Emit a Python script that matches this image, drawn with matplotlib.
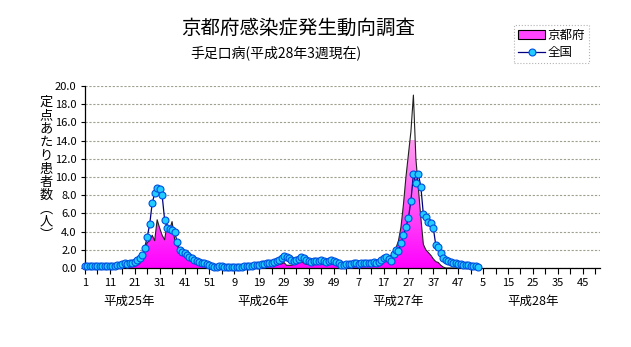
import numpy as np
import matplotlib.pyplot as plt
from matplotlib.colors import LinearSegmentedColormap
from matplotlib.lines import Line2D
from matplotlib.patches import Patch
from matplotlib.transforms import blended_transform_factory

plt.rcParams['font.family'] = ['Noto Sans CJK JP', 'DejaVu Sans']

# weekly sentinel counts, Heisei 25-28 (2013-2016), 52 weeks shown per year
years = ["平成25年", "平成26年", "平成27年", "平成28年"]
weeks_per_year = [52, 52, 52, 52]

kyoto_2013 = [0.05, 0.05, 0.05, 0.05, 0.05, 0.05, 0.05, 0.05, 0.05, 0.05,
              0.05, 0.05, 0.05, 0.05, 0.1, 0.1, 0.1, 0.1, 0.15, 0.15,
              0.2, 0.3, 0.5, 1.0, 2.0, 2.8, 3.0, 3.6, 3.0, 5.3, 4.4, 3.6,
              3.1, 4.8, 4.2, 5.1, 3.2, 2.4, 2.0, 1.8, 1.6, 1.4, 1.2, 1.0,
              0.9, 0.7, 0.6, 0.5, 0.4, 0.3, 0.15, 0.05]
kyoto_2014 = [0.05] * 18 + [
              0.15, 0.15, 0.2, 0.2, 0.2, 0.2, 0.25, 0.3, 0.4, 0.45,
              0.6, 0.3, 0.3, 0.3, 0.4, 0.5, 0.7, 0.8, 0.5, 0.4, 0.5, 0.5,
              0.4, 0.6, 0.5, 0.5, 0.4, 0.5, 0.6, 0.5, 0.5, 0.6, 0.4, 0.3]
kyoto_2015 = [0.2, 0.2, 0.25, 0.3, 0.3, 0.3, 0.35, 0.35, 0.4, 0.4, 0.4, 0.5, 0.5, 0.6,
              0.7, 0.8, 0.9, 1.0, 1.2, 1.4, 1.7, 2.2, 3.0, 4.5, 7.0, 10.0, 12.5, 15.0,
              19.0, 12.0, 8.8, 5.5, 2.6, 2.0, 1.7, 1.4, 1.0, 0.7, 0.6, 0.3,
              0.1, 0, 0, 0, 0, 0, 0, 0, 0, 0, 0, 0]
kyoto_2016 = [0, 0, 0]

national_2013 = [0.2, 0.2, 0.2, 0.2, 0.2, 0.2, 0.2, 0.2, 0.2, 0.2, 0.2, 0.2,
                 0.25, 0.3, 0.35, 0.45, 0.5, 0.45, 0.55, 0.6,
                 0.7, 0.9, 1.1, 1.4, 2.2, 3.4, 4.8, 7.1, 8.2, 8.8, 8.7, 8.0,
                 5.3, 4.4, 4.3, 4.2, 4.0, 2.9, 2.0, 1.8, 1.7, 1.4, 1.2, 1.05,
                 0.9, 0.8, 0.7, 0.6, 0.5, 0.45, 0.35, 0.25]
national_2014 = [0.1, 0.15, 0.25, 0.2, 0.15, 0.1, 0.1, 0.1, 0.1, 0.1, 0.15, 0.15, 0.2, 0.2,
                 0.2, 0.25, 0.3, 0.3, 0.35, 0.4, 0.45, 0.5, 0.55, 0.6, 0.7, 0.8, 0.9, 1.1,
                 1.3, 1.25, 1.1, 0.9, 0.8, 0.85, 1.0, 1.2, 1.1, 0.9, 0.8, 0.7,
                 0.75, 0.8, 0.8, 0.9, 0.8, 0.7, 0.8, 0.9, 0.8, 0.7, 0.5, 0.3]
national_2015 = [0.35, 0.4, 0.4, 0.45, 0.5, 0.5, 0.45, 0.5, 0.5, 0.55, 0.6, 0.6, 0.7, 0.6,
                 0.7, 0.9, 1.1, 1.2, 1.0, 0.8, 1.5, 2.0, 1.9, 2.7, 3.6, 4.5, 5.5, 7.4,
                 10.3, 9.3, 10.3, 8.9, 5.9, 5.6, 5.1, 4.9, 4.4, 2.5, 2.3, 1.6,
                 1.1, 0.9, 0.8, 0.7, 0.6, 0.5, 0.45, 0.4, 0.35, 0.3, 0.3, 0.25]
national_2016 = [0.2, 0.2, 0.15]

kyoto = np.array(kyoto_2013 + kyoto_2014 + kyoto_2015 + kyoto_2016)
national = np.array(national_2013 + national_2014 + national_2015 + national_2016)

week_labels = []
for n in weeks_per_year:
    week_labels += [str(w) for w in range(1, n + 1)]
n_total = len(week_labels)
x = np.arange(len(kyoto))

fig = plt.figure(figsize=(6.31, 3.47), dpi=100)
ax = fig.add_axes([85 / 631, 1 - 268 / 347, 515 / 631, 182 / 347])

# Kyoto area with a pink gradient
poly = ax.fill_between(x, 0, kyoto, facecolor='none', edgecolor='none')
cmap = LinearSegmentedColormap.from_list("pink", ["#ff00ff", "#ff55f5", "#ff9cf0"])
grad = np.linspace(0, 1, 256).reshape(-1, 1)
im = ax.imshow(grad, extent=[0, n_total - 1, 0, 14], aspect='auto', cmap=cmap,
               origin='lower', zorder=2, interpolation='bilinear')
im.set_clip_path(poly.get_paths()[0], transform=ax.transData)
ax.plot(x, kyoto, color='#202020', lw=0.8, zorder=3)

# national line
ax.plot(x, national, color='#000080', lw=0.9, marker='o', ms=5,
        mfc='#22ccff', mec='#0050e0', mew=0.8, zorder=4, clip_on=False)

ax.set_xlim(0, n_total - 1)
ax.set_ylim(0, 20)
ax.set_yticks(np.arange(0, 20.1, 2))
ax.set_yticklabels([f"{v:.1f}" for v in np.arange(0, 20.1, 2)])
ax.set_xticks(np.arange(0, n_total, 10))
ax.set_xticklabels([week_labels[i] for i in range(0, n_total, 10)])
ax.set_xticks(np.arange(5, n_total, 10), minor=True)
ax.tick_params(axis='x', which='both', length=4, width=0.8, direction='out',
               labelsize=8, pad=3)
ax.tick_params(axis='y', length=3, width=0.8, direction='out', labelsize=8, pad=3)
ax.yaxis.grid(True, color='#a0a090', linestyle=(0, (2, 1.5)), lw=0.8)
ax.set_axisbelow(True)
for s in ['top', 'right']:
    ax.spines[s].set_visible(False)
for s in ['left', 'bottom']:
    ax.spines[s].set_linewidth(0.9)

# year labels under the week axis
year_pos = [17.7, 71.5, 125.8, 180]
trans = blended_transform_factory(ax.transData, fig.transFigure)
for xp, lab in zip(year_pos, years):
    ax.text(xp, 1 - 301 / 347, lab, transform=trans, ha='center', va='center',
            fontsize=9)

fig.text(298 / 631, 1 - 28 / 347, "京都府感染症発生動向調査", ha='center', va='center',
         fontsize=14)
fig.text(190 / 631, 1 - 53 / 347, "手足口病(平成28年3週現在)", ha='left', va='center',
         fontsize=10)
fig.text(46 / 631, 1 - 169 / 347, "\n".join("定点あたり患者数︵人︶"), ha='center',
         va='center', fontsize=9.5, linespacing=1.03)

handles = [Patch(facecolor='#ff44ff', edgecolor='black', lw=0.8),
           Line2D([], [], color='#000080', lw=0.9, marker='o', ms=5,
                  mfc='#22ccff', mec='#0050e0', mew=0.8)]
leg = fig.legend(handles, ["京都府", "全国"], loc='upper left',
                 bbox_to_anchor=(514 / 631, 1 - 25 / 347), bbox_transform=fig.transFigure,
                 fontsize=9, frameon=True, fancybox=False, handlelength=2.2,
                 handletextpad=0.2, borderpad=0.3, labelspacing=0.35, borderaxespad=0)
leg.get_frame().set_edgecolor('#a0a0a0')
leg.get_frame().set_linestyle(':')
leg.get_frame().set_linewidth(0.8)

fig.savefig("out.png", dpi=100)
